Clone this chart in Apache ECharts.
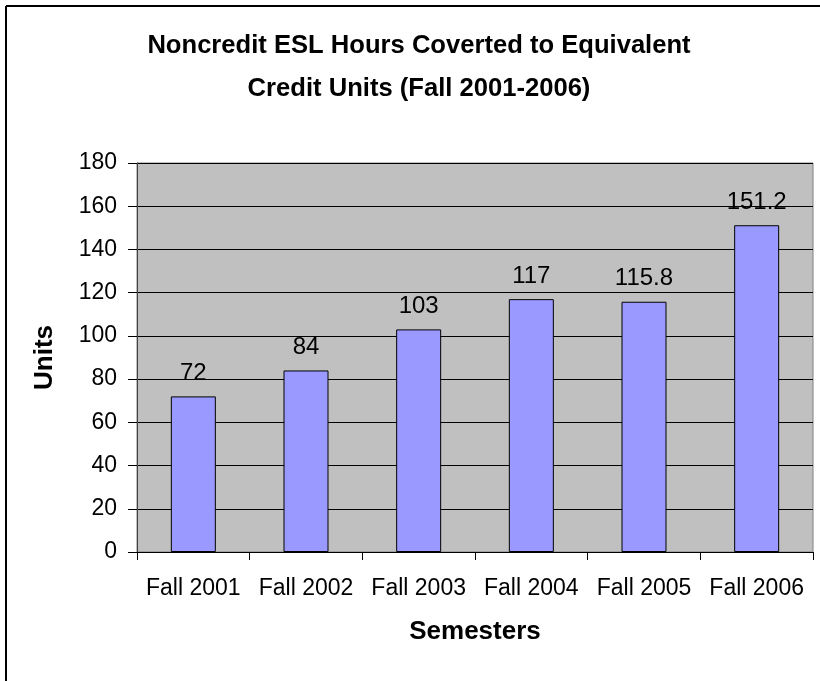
<!DOCTYPE html>
<html>
<head>
<meta charset="utf-8">
<script src="https://cdn.jsdelivr.net/npm/echarts@6/dist/echarts.min.js"></script>
<style>
  html, body { margin: 0; padding: 0; background: #fff; }
  #chart { width: 820px; height: 681px; }
</style>
</head>
<body>
<div id="chart"></div>
<script>
const semesters = ['Fall 2001', 'Fall 2002', 'Fall 2003', 'Fall 2004', 'Fall 2005', 'Fall 2006'];
const units = [72, 84, 103, 117, 115.8, 151.2];
const yTicks = { min: 0, max: 180, interval: 20 };

const chart = echarts.init(document.getElementById('chart'));
const font = 'Liberation Sans, Arial, sans-serif';

chart.setOption({
  animation: false,
  title: {
    text: 'Noncredit ESL Hours Coverted to Equivalent\nCredit Units (Fall 2001-2006)',
    left: 414,
    top: 19,
    textAlign: 'center',
    textStyle: {
      fontFamily: font,
      fontSize: 25.6,
      fontWeight: 'bold',
      color: '#000',
      lineHeight: 43
    }
  },
  graphic: [
    { type: 'line', shape: { x1: 6, y1: 6, x2: 820, y2: 6 }, style: { stroke: '#000', lineWidth: 2 } },
    { type: 'line', shape: { x1: 6, y1: 6, x2: 6, y2: 681 }, style: { stroke: '#000', lineWidth: 2 } }
  ],
  grid: {
    left: 137,
    right: 7,
    top: 163,
    bottom: 129,
    show: true,
    backgroundColor: '#c0c0c0',
    borderColor: '#808080',
    borderWidth: 1
  },
  xAxis: {
    type: 'category',
    data: semesters,
    name: 'Semesters',
    nameLocation: 'middle',
    nameGap: 67,
    nameTextStyle: { fontFamily: font, fontSize: 26, fontWeight: 'bold', color: '#000' },
    axisLine: { lineStyle: { color: '#000', width: 1 } },
    axisTick: { show: true, interval: 0, length: 8, lineStyle: { color: '#000' } },
    axisLabel: { interval: 0, fontFamily: font, fontSize: 23, color: '#000', margin: 25 }
  },
  yAxis: {
    type: 'value',
    min: yTicks.min,
    max: yTicks.max,
    interval: yTicks.interval,
    name: 'Units',
    nameLocation: 'middle',
    nameGap: 79,
    nameTextStyle: { fontFamily: font, fontSize: 26, fontWeight: 'bold', color: '#000' },
    axisLine: { show: true, lineStyle: { color: '#404040', width: 1 } },
    axisTick: { show: true, length: 9, lineStyle: { color: '#000' } },
    axisLabel: { fontFamily: font, fontSize: 23, color: '#000', margin: 20 },
    splitLine: { lineStyle: { color: '#000', width: 1 } }
  },
  series: [{
    type: 'bar',
    data: units,
    barWidth: 45,
    itemStyle: { color: '#9999ff', borderColor: '#000', borderWidth: 1 },
    label: {
      show: true,
      position: 'top',
      distance: 11,
      fontFamily: font,
      fontSize: 24,
      color: '#000'
    }
  }]
});
</script>
</body>
</html>
